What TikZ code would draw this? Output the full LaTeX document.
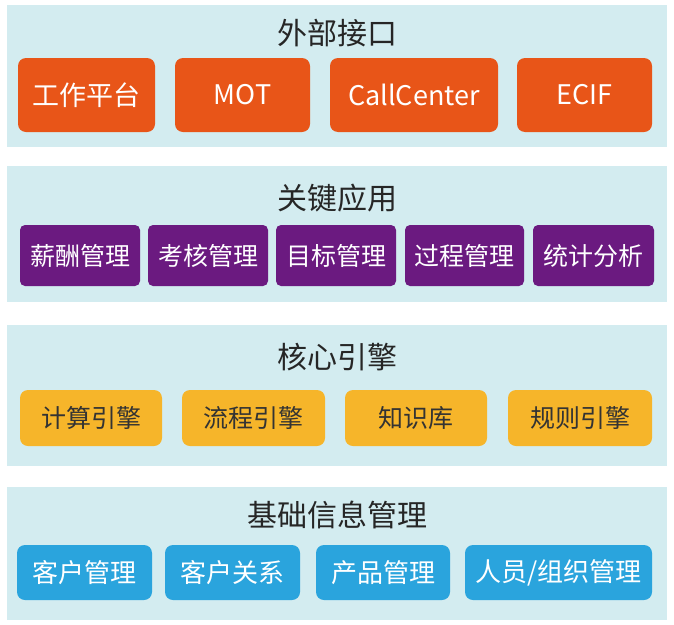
\documentclass[tikz,border=0pt]{standalone}
\usepackage{fontspec}
\setmainfont{Noto Sans CJK SC}
\begin{document}
\begin{tikzpicture}[x=1pt,y=-1pt,
  band/.style={fill=bandc,draw=none},
  ttl/.style={font=\fontsize{30}{30}\selectfont,text=black!85},
  bx/.style={rounded corners=8pt,draw=none,text=white,font=\fontsize{27}{27}\selectfont},
  ob/.style={bx,fill=orgc},
  pb/.style={bx,fill=purc,font=\fontsize{25}{25}\selectfont,rounded corners=5pt},
  yb/.style={bx,fill=yelc,text=black!80,font=\fontsize{25}{25}\selectfont},
  bb/.style={bx,fill=bluc,font=\fontsize{26}{26}\selectfont}]
\definecolor{bandc}{HTML}{D3ECF0}
\definecolor{orgc}{HTML}{E85518}
\definecolor{purc}{HTML}{6B1A80}
\definecolor{yelc}{HTML}{F6B52A}
\definecolor{bluc}{HTML}{2AA4DD}
\useasboundingbox (0,0) rectangle (674,624);
\fill[white] (0,0) rectangle (674,624);
% bands
\path[band] (7,5) rectangle (667,147);
\path[band] (7,166) rectangle (667,302);
\path[band] (7,325) rectangle (667,466);
\path[band] (7,487) rectangle (667,620);
\node[ttl] (t1) at (337,33) {外部接口};
\node[ttl] (t2) at (337,198) {关键应用};
\node[ttl] (t3) at (337,357) {核心引擎};
\node[ttl] (t4) at (337,515) {基础信息管理};
% band 1
\path[ob] (18,58) rectangle (155,132) node[midway] (o1) {工作平台};
\path[ob] (175,58) rectangle (310,132) node[midway] (o2) {MOT};
\path[ob] (330,58) rectangle (498,132) node[midway] (o3) {CallCenter};
\path[ob] (517,58) rectangle (652,132) node[midway] (o4) {ECIF};
% band 2
\path[pb] (20,225) rectangle (140,286) node[midway] (p1) {薪酬管理};
\path[pb] (148,225) rectangle (268,286) node[midway] (p2) {考核管理};
\path[pb] (276,225) rectangle (396,286) node[midway] (p3) {目标管理};
\path[pb] (405,225) rectangle (524,286) node[midway] (p4) {过程管理};
\path[pb] (533,225) rectangle (654,286) node[midway] (p5) {统计分析};
% band 3
\path[yb] (20,390) rectangle (162,446) node[midway] (y1) {计算引擎};
\path[yb] (182,390) rectangle (325,446) node[midway] (y2) {流程引擎};
\path[yb] (345,390) rectangle (487,446) node[midway] (y3) {知识库};
\path[yb] (508,390) rectangle (652,446) node[midway] (y4) {规则引擎};
% band 4
\path[bb] (17,545) rectangle (152,600) node[midway] (c1) {客户管理};
\path[bb] (165,545) rectangle (300,600) node[midway] (c2) {客户关系};
\path[bb] (316,545) rectangle (450,600) node[midway] (c3) {产品管理};
\path[bb] (465,545) rectangle (652,600) node[midway] (c4) {人员/组织管理};
\end{tikzpicture}
\end{document}
